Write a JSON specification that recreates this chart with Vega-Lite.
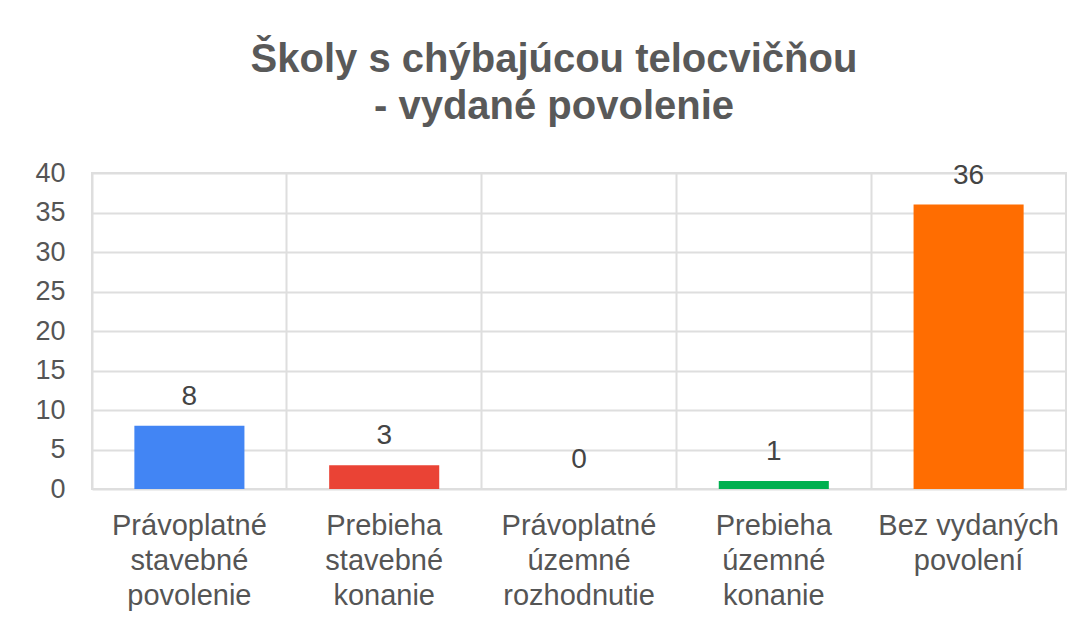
{
  "$schema": "https://vega.github.io/schema/vega-lite/v6.json",
  "autosize": {"type": "none"},
  "width": 974,
  "height": 316,
  "padding": {"left": 92, "top": 173, "right": 25, "bottom": 139},
  "background": "white",
  "title": {
    "text": ["Školy s chýbajúcou telocvičňou", "- vydané povolenie"],
    "anchor": "middle",
    "frame": "group",
    "dx": -25,
    "offset": 32,
    "font": "Liberation Sans",
    "fontSize": 40,
    "fontWeight": "bold",
    "color": "#595959",
    "lineHeight": 47
  },
  "data": {
    "values": [
      {"kategoria": "Právoplatné|stavebné|povolenie", "pocet": 8, "farba": "#4285F4"},
      {"kategoria": "Prebieha|stavebné|konanie", "pocet": 3, "farba": "#EA4335"},
      {"kategoria": "Právoplatné|územné|rozhodnutie", "pocet": 0, "farba": "#FBBC04"},
      {"kategoria": "Prebieha|územné|konanie", "pocet": 1, "farba": "#00B050"},
      {"kategoria": "Bez vydaných|povolení", "pocet": 36, "farba": "#FF6D01"}
    ]
  },
  "encoding": {
    "x": {
      "field": "kategoria",
      "type": "nominal",
      "sort": null,
      "scale": {"paddingInner": 0, "paddingOuter": 0},
      "axis": {
        "title": null,
        "domain": false,
        "ticks": false,
        "tickSize": 0,
        "grid": true,
        "gridColor": "#dedede",
        "gridWidth": 2,
        "bandPosition": 0,
        "labelAngle": 0,
        "labelExpr": "split(datum.label, '|')",
        "labelFont": "Liberation Sans",
        "labelFontSize": 29,
        "labelColor": "#555555",
        "labelPadding": 22,
        "labelLineHeight": 35,
        "labelBaseline": "top",
        "labelLimit": 400
      }
    },
    "y": {
      "field": "pocet",
      "type": "quantitative",
      "scale": {"domain": [0, 40], "nice": false},
      "axis": {
        "title": null,
        "values": [0, 5, 10, 15, 20, 25, 30, 35, 40],
        "labelOverlap": false,
        "domain": false,
        "ticks": false,
        "tickSize": 0,
        "grid": true,
        "gridColor": "#dedede",
        "gridWidth": 2,
        "labelFont": "Liberation Sans",
        "labelFontSize": 27,
        "labelColor": "#555555",
        "labelPadding": 27
      }
    }
  },
  "layer": [
    {
      "mark": {"type": "bar", "width": {"band": 0.565}},
      "encoding": {
        "color": {"field": "farba", "type": "nominal", "scale": null, "legend": null}
      }
    },
    {
      "mark": {"type": "text", "baseline": "alphabetic", "dy": -21, "font": "Liberation Sans", "fontSize": 28, "color": "#444444"},
      "encoding": {
        "text": {"field": "pocet", "type": "quantitative"}
      }
    }
  ],
  "config": {
    "view": {"stroke": "#dedede", "strokeWidth": 2}
  }
}
